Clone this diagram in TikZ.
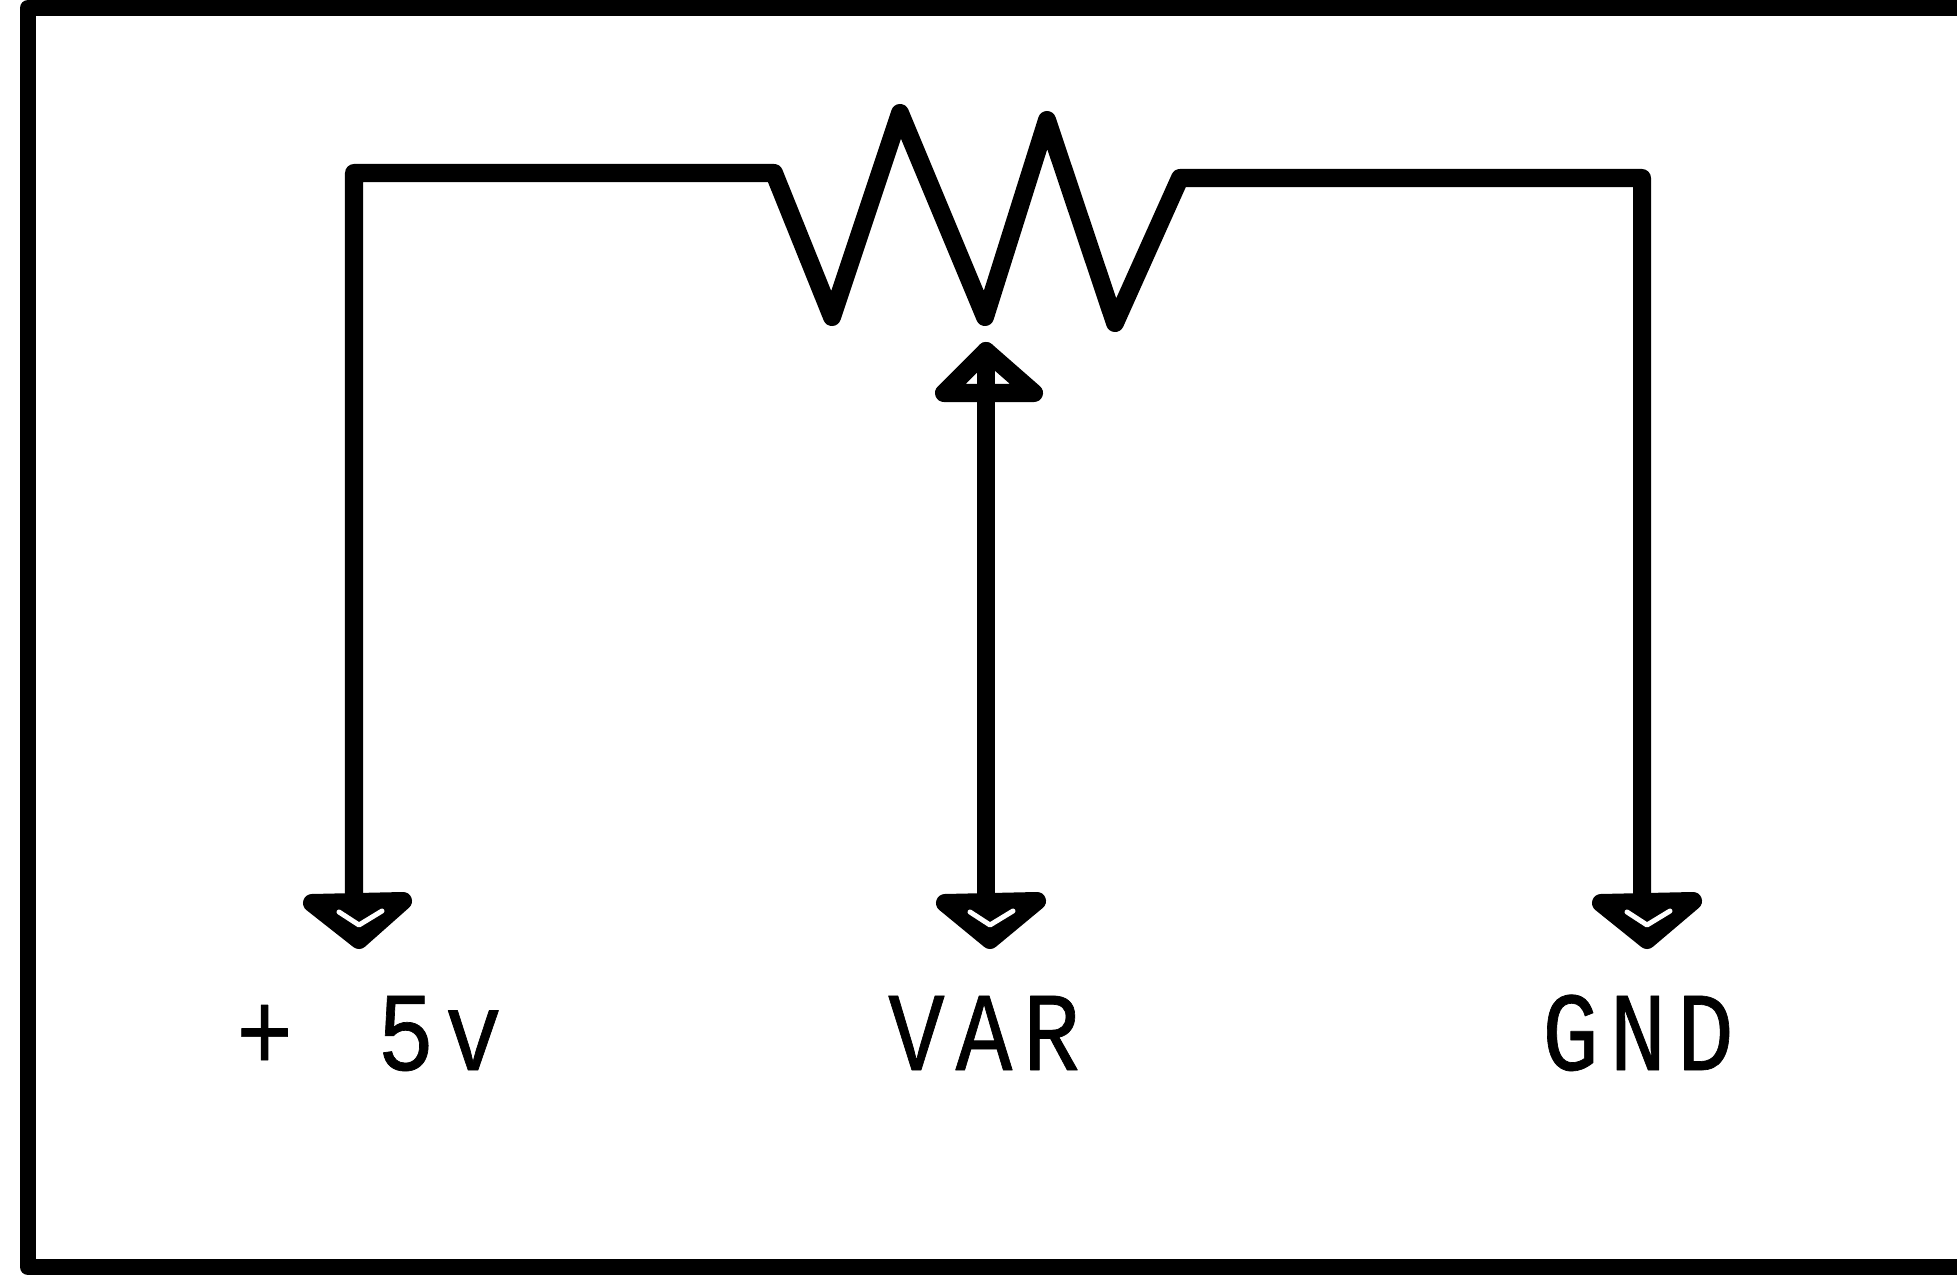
\documentclass[tikz,border=0pt]{standalone}
\usepackage{fontspec}
\newfontfamily\pinfont[FakeStretch=0.84,FakeBold=0.6,LetterSpace=9.6]{Liberation Mono}
\begin{document}
\begin{tikzpicture}
		[x=0.01cm,y=-0.01cm,line cap=round,line join=round,
		%Styles
		frame line/.style={line width=0.16cm,line cap=butt},
		wire/.style={line width=0.18cm},
		tip/.style={line width=0.18cm,fill=black},
		open tip/.style={line width=0.18cm},
		tip gap/.style={line width=0.05cm,white},
		pin label/.style={anchor=base,inner sep=0pt,font=\pinfont\fontsize{32}{32}\selectfont}
		]
		\useasboundingbox (0, 0) rectangle (1957, 1276);
		
		%Outline, open on the right
		\draw[frame line] (1957, 8) -- (28, 8) -- (28, 1267) -- (1957, 1267);
		
		%The graphic
		\coordinate (vcc) at (354, 915);
		\coordinate (var) at (986, 915);
		\coordinate (gnd) at (1642, 915);
		\coordinate (wiper) at (986, 351);
		\coordinate (r1) at (774, 173);
		\coordinate (r2) at (832, 317);
		\coordinate (r3) at (900, 113);
		\coordinate (r4) at (985, 317);
		\coordinate (r5) at (1047, 120);
		\coordinate (r6) at (1115, 323);
		\coordinate (r7) at (1180, 178);
		
		\draw[wire] (vcc) |- (r1) -- (r2) -- (r3) -- (r4) -- (r5) -- (r6) -- (r7) -| (gnd);
		\draw[wire] (wiper) -- (var);
		
		%Arrow heads
		\draw[tip] (312, 903) -- (403, 901) -- (359, 940) -- cycle;
		\draw[tip] (945, 903) -- (1037, 901) -- (990, 940) -- cycle;
		\draw[tip] (1601, 903) -- (1693, 901) -- (1647, 940) -- cycle;
		\draw[open tip] (944, 393) -- (1034, 393) -- (986, 351) -- cycle;
		\draw[tip gap] (339, 912) -- (359, 925) -- (382, 911);
		\draw[tip gap] (970, 912) -- (990, 925) -- (1013, 911);
		\draw[tip gap] (1627, 912) -- (1647, 925) -- (1670, 911);
		
		\node[pin label] (vcc label) at (369, 1070) {+\hspace{0.17cm} 5v};
		\node[pin label] (var label) at (984, 1070) {VAR};
		\node[pin label] (gnd label) at (1638, 1070) {GND};
	\end{tikzpicture}
\end{document}
